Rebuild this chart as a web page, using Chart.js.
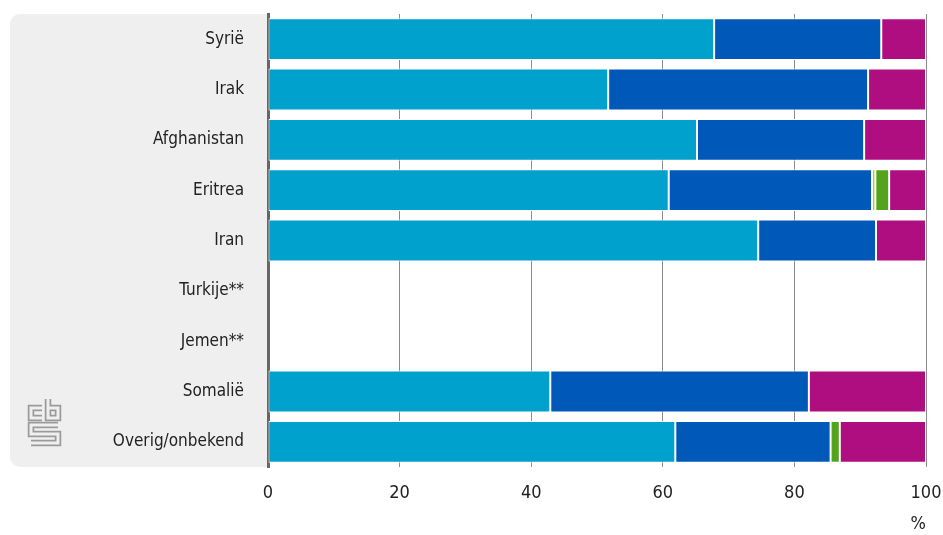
<!DOCTYPE html>
<html>
<head>
<meta charset="utf-8">
<script src="https://cdn.jsdelivr.net/npm/chart.js@4"></script>
<style>
  html, body { margin: 0; padding: 0; background: #fff; }
  canvas { display: block; }
</style>
</head>
<body>
<canvas id="barChart" width="943" height="535"></canvas>
<script>
// categorieen en waarden (procenten)
const landen = ["Syrië", "Irak", "Afghanistan", "Eritrea", "Iran", "Turkije**", "Jemen**", "Somalië", "Overig/onbekend"];
const lichtblauw = [67.8, 51.7, 65.2, 60.9, 74.5, null, null, 42.9, 61.9];
const donkerblauw = [25.4, 39.5, 25.4, 30.9, 17.9, null, null, 39.3, 23.6];
const lichtgroen = [null, null, null, 0.5, null, null, null, null, null];
const groen = [null, null, null, 2.1, null, null, null, null, 1.4];
const magenta = [6.8, 8.8, 9.4, 5.6, 7.6, null, null, 17.8, 13.1];
const xTicks = [0, 20, 40, 60, 80, 100];

const fontFam = "'DejaVu Sans Condensed', 'DejaVu Sans', sans-serif";
const cijferFam = "'Liberation Sans Narrow', 'DejaVu Sans Condensed', sans-serif";
const panelKleur = "#efefef";

// grijs vlak achter de labels + logo
const achtergrond = {
    id: "achtergrond",
    beforeDraw(chart) {
        const c = chart.ctx;
        const a = chart.chartArea;
        const x0 = 10, r = 10;
        c.save();
        c.fillStyle = panelKleur;
        c.beginPath();
        c.moveTo(a.left, a.top);
        c.lineTo(x0 + r, a.top);
        c.arcTo(x0, a.top, x0, a.top + r, r);
        c.lineTo(x0, a.bottom - r);
        c.arcTo(x0, a.bottom, x0 + r, a.bottom, r);
        c.lineTo(a.left, a.bottom);
        c.closePath();
        c.fill();

        // cbs logo (ruwe benadering)
        const paden = [
            [[42, 408], [31, 408], [31, 418], [42, 418]],
            [[48, 399], [48, 418], [58, 418], [58, 408], [48, 408]],
            [[58, 425], [31, 425], [31, 434], [58, 434], [58, 443], [31, 443]]
        ];
        c.lineJoin = "miter";
        c.lineCap = "butt";
        paden.forEach(p => {
            c.beginPath();
            p.forEach((pt, i) => i ? c.lineTo(pt[0], pt[1]) : c.moveTo(pt[0], pt[1]));
            c.strokeStyle = "#9a9a9a";
            c.lineWidth = 6.5;
            c.stroke();
            c.strokeStyle = panelKleur;
            c.lineWidth = 3;
            c.stroke();
        });
        c.restore();
    }
};

function reeks(label, data, kleur) {
    return {
        label: label,
        data: data,
        backgroundColor: kleur,
        borderColor: "#ffffff",
        borderWidth: 1,
        borderSkipped: false,
        categoryPercentage: 1,
        barPercentage: 0.83
    };
}

const ctx = document.getElementById("barChart").getContext("2d");
const chart = new Chart(ctx, {
    type: "bar",
    data: {
        labels: landen,
        datasets: [
            reeks("Reeks 1", lichtblauw, "#00a1cd"),
            reeks("Reeks 2", donkerblauw, "#0058b8"),
            reeks("Reeks 3", lichtgroen, "#afcb05"),
            reeks("Reeks 4", groen, "#53a31d"),
            reeks("Reeks 5", magenta, "#af0e80")
        ]
    },
    options: {
        indexAxis: "y",
        responsive: false,
        animation: false,
        layout: { padding: { left: 0, right: 17, top: 14, bottom: 0 } },
        plugins: {
            legend: { display: false },
            tooltip: { enabled: false }
        },
        scales: {
            x: {
                stacked: true,
                min: 0,
                max: 100,
                afterBuildTicks(scale) {
                    scale.ticks = xTicks.map(v => ({ value: v }));
                },
                afterFit(scale) {
                    scale.height = 68;
                    scale.paddingLeft = 0;
                    scale.paddingRight = 0;
                },
                grid: { color: "#8c8c8c", lineWidth: 1, drawTicks: false },
                border: { display: false },
                ticks: {
                    color: "#222",
                    padding: 16,
                    font: { family: cijferFam, size: 18 }
                },
                title: {
                    display: true,
                    text: "%",
                    align: "end",
                    color: "#222",
                    padding: { top: 12, bottom: 0 },
                    font: { family: cijferFam, size: 18 }
                }
            },
            y: {
                stacked: true,
                afterFit(scale) {
                    scale.width = 268;
                    scale.paddingTop = 0;
                    scale.paddingBottom = 0;
                },
                grid: { display: false, drawTicks: false },
                border: { display: true, color: "#666", width: 3 },
                ticks: {
                    color: "#222",
                    padding: 24,
                    font: { family: fontFam, size: 17 }
                }
            }
        }
    },
    plugins: [achtergrond]
});
</script>
</body>
</html>
